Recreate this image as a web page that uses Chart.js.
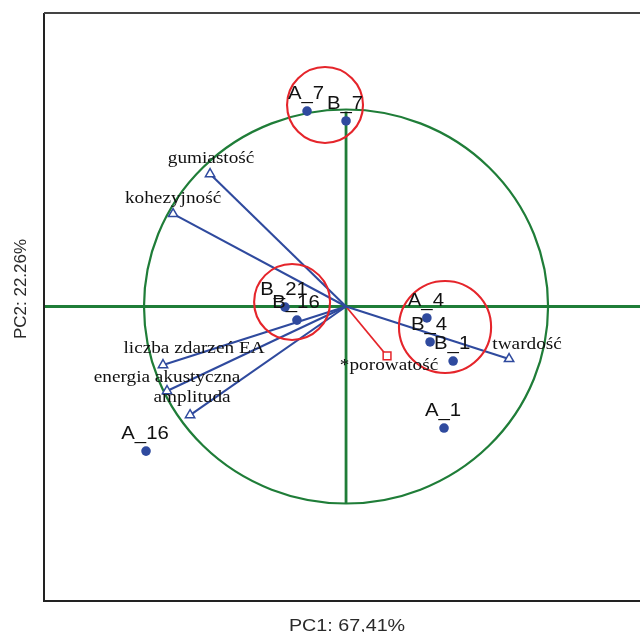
<!DOCTYPE html>
<html>
<head>
<meta charset="utf-8">
<script src="https://cdn.jsdelivr.net/npm/chart.js@4"></script>
<style>
  html, body { margin: 0; padding: 0; background: #ffffff; }
  #wrap { width: 640px; height: 632px; }
</style>
</head>
<body>
<div id="wrap"><canvas id="biplot" width="640" height="632"></canvas></div>
<script>
// Sample scores on the first two principal components
const sampleNames = ['A_7', 'B_7', 'B_21', 'B_16', 'A_4', 'B_4', 'B_1', 'A_1', 'A_16'];
const samplePC1 = [-0.193, 0.000, -0.302, -0.243, 0.400, 0.416, 0.530, 0.485, -0.990];
const samplePC2 = [0.992, 0.942, -0.003, -0.069, -0.058, -0.180, -0.277, -0.617, -0.734];

// Active variable loadings (arrows)
const variableNames = ['gumiastość', 'kohezyjność', 'liczba zdarzeń EA', 'energia akustyczna', 'amplituda', 'twardość'];
const variablePC1 = [-0.673, -0.856, -0.906, -0.886, -0.772, 0.807];
const variablePC2 = [0.673, 0.470, -0.297, -0.429, -0.551, -0.266];

// Supplementary variable
const supplementaryNames = ['*porowatość'];
const supplementaryPC1 = [0.203];
const supplementaryPC2 = [-0.251];

// Circled groups of similar samples (centre and radius in PC units)
const groupPC1 = [-0.104, -0.267, 0.490];
const groupPC2 = [1.023, 0.023, -0.104];
const groupRadius = [0.188, 0.188, 0.228];

// Axis titles
const axisTitles = ['PC1: 67,41%', 'PC2: 22.26%'];

// Axis extents
const pc1Range = [-1.495, 1.455];
const pc2Range = [-1.495, 1.490];

// ---- styling ----
const BLUE = '#2f4a9e';
const GREEN = '#1f7d38';
const RED = '#e5252b';
const INK = '#111111';

// label placement relative to its mark, in pixels
const sampleLabelShift = { dx: -1, dy: -12 };
const variableLabelShift = [
  { dx: 1, dy: -11 }, { dx: 0, dy: -11 }, { dx: 31, dy: -12 },
  { dx: 0, dy: -9 }, { dx: 2, dy: -13 }, { dx: 18, dy: -10 }
];
const supplementaryLabelShift = [{ dx: 2, dy: 14 }];

const datasets = [];

// correlation-circle axes
datasets.push({
  type: 'line', order: 50,
  data: [{ x: pc1Range[0], y: 0 }, { x: pc1Range[1], y: 0 }],
  borderColor: GREEN, borderWidth: 2.8, pointRadius: 0
});
datasets.push({
  type: 'line', order: 50,
  data: [{ x: 0, y: -1 }, { x: 0, y: 0.99 }],
  borderColor: GREEN, borderWidth: 2.8, pointRadius: 0
});

// variable arrows
variableNames.forEach((name, i) => {
  datasets.push({
    type: 'line', order: 20,
    data: [{ x: 0, y: 0 }, { x: variablePC1[i], y: variablePC2[i] }],
    borderColor: BLUE, borderWidth: 2.1,
    pointRadius: [0, 5.4], pointStyle: 'triangle',
    pointBackgroundColor: '#ffffff', pointBorderColor: BLUE, pointBorderWidth: 1.5
  });
});

// supplementary variable arrow
supplementaryNames.forEach((name, i) => {
  datasets.push({
    type: 'line', order: 20,
    data: [{ x: 0, y: 0 }, { x: supplementaryPC1[i], y: supplementaryPC2[i] }],
    borderColor: RED, borderWidth: 1.8,
    pointRadius: [0, 5.5], pointStyle: 'rect',
    pointBackgroundColor: '#ffffff', pointBorderColor: RED, pointBorderWidth: 1.5
  });
});

// sample points
datasets.push({
  type: 'scatter', order: 10,
  data: sampleNames.map((n, i) => ({ x: samplePC1[i], y: samplePC2[i] })),
  pointRadius: 4.8, pointBackgroundColor: BLUE, pointBorderColor: BLUE, pointBorderWidth: 0
});

const decorPlugin = {
  id: 'biplotDecor',
  beforeDatasetsDraw(chart) {
    const { ctx, scales: { x, y } } = chart;
    // unit correlation circle
    const cx = x.getPixelForValue(0), cy = y.getPixelForValue(0);
    const rx = x.getPixelForValue(1) - cx, ry = cy - y.getPixelForValue(1);
    ctx.save();
    ctx.strokeStyle = GREEN;
    ctx.lineWidth = 2.2;
    ctx.beginPath();
    ctx.ellipse(cx, cy, rx, ry, 0, 0, Math.PI * 2);
    ctx.stroke();
    ctx.restore();
  },
  afterDatasetsDraw(chart) {
    const { ctx, chartArea: a, scales: { x, y } } = chart;
    ctx.save();
    // group circles
    ctx.strokeStyle = RED;
    ctx.lineWidth = 2.1;
    groupPC1.forEach((g, i) => {
      const px = x.getPixelForValue(g), py = y.getPixelForValue(groupPC2[i]);
      const r = x.getPixelForValue(g + groupRadius[i]) - px;
      ctx.beginPath();
      ctx.arc(px, py, r, 0, Math.PI * 2);
      ctx.stroke();
    });

    const drawText = (txt, px, py, font, stretch) => {
      ctx.save();
      ctx.translate(px, py);
      ctx.scale(stretch, 1);
      ctx.font = font;
      ctx.fillText(txt, 0, 0);
      ctx.restore();
    };
    ctx.fillStyle = INK;
    ctx.textAlign = 'center';
    ctx.textBaseline = 'alphabetic';

    // sample labels
    sampleNames.forEach((n, i) => {
      drawText(n, x.getPixelForValue(samplePC1[i]) + sampleLabelShift.dx,
        y.getPixelForValue(samplePC2[i]) + sampleLabelShift.dy,
        '18.5px "Liberation Sans", Arial, sans-serif', 1.1);
    });
    // variable labels
    variableNames.forEach((n, i) => {
      drawText(n, x.getPixelForValue(variablePC1[i]) + variableLabelShift[i].dx,
        y.getPixelForValue(variablePC2[i]) + variableLabelShift[i].dy,
        '17.5px "Liberation Serif", "Times New Roman", serif', 1.1);
    });
    supplementaryNames.forEach((n, i) => {
      drawText(n, x.getPixelForValue(supplementaryPC1[i]) + supplementaryLabelShift[i].dx,
        y.getPixelForValue(supplementaryPC2[i]) + supplementaryLabelShift[i].dy,
        '17.5px "Liberation Serif", "Times New Roman", serif', 1.1);
    });

    // frame: left, top and bottom edges
    ctx.lineWidth = 2;
    ctx.strokeStyle = '#222222';
    ctx.beginPath();
    ctx.moveTo(a.left, a.top);
    ctx.lineTo(a.left, a.bottom);
    ctx.lineTo(a.right + 2, a.bottom);
    ctx.stroke();
    ctx.strokeStyle = '#444444';
    ctx.beginPath();
    ctx.moveTo(a.left, a.top);
    ctx.lineTo(a.right + 2, a.top);
    ctx.stroke();

    // axis titles
    ctx.fillStyle = '#2a2a2a';
    drawText(axisTitles[0], x.getPixelForValue(0) + 1, a.bottom + 30,
      '17px "Liberation Sans", Arial, sans-serif', 1.16);
    ctx.save();
    ctx.translate(a.left - 23, a.top + 276);
    ctx.rotate(-Math.PI / 2);
    ctx.font = '17px "Liberation Sans", Arial, sans-serif';
    ctx.textBaseline = 'middle';
    ctx.fillText(axisTitles[1], 0, 0);
    ctx.restore();

    ctx.restore();
  }
};

new Chart(document.getElementById('biplot'), {
  type: 'scatter',
  data: { datasets },
  options: {
    responsive: false,
    devicePixelRatio: 1,
    animation: false,
    layout: { autoPadding: false, padding: { left: 44, top: 13, right: 0, bottom: 31 } },
    plugins: { legend: { display: false }, tooltip: { enabled: false } },
    scales: {
      x: { type: 'linear', display: false, min: pc1Range[0], max: pc1Range[1] },
      y: { type: 'linear', display: false, min: pc2Range[0], max: pc2Range[1] }
    },
    elements: { line: { tension: 0 } }
  },
  plugins: [decorPlugin]
});
</script>
</body>
</html>
